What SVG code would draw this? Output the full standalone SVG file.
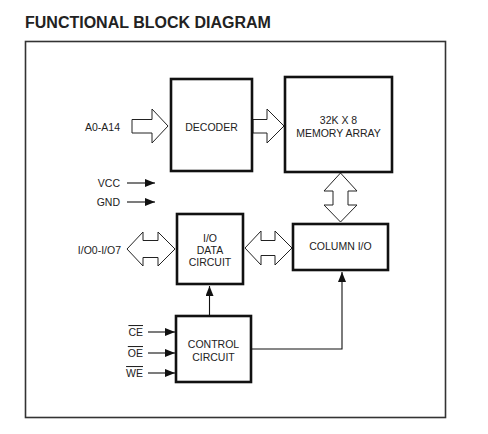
<svg xmlns="http://www.w3.org/2000/svg" width="488" height="434" viewBox="0 0 488 434">
<defs>
<marker id="ah" viewBox="0 0 10 8" refX="10" refY="4" markerWidth="10" markerHeight="8" markerUnits="userSpaceOnUse" orient="auto">
<path d="M0,0 L10,4 L0,8 Z" fill="#111"/>
</marker>
</defs>
<style>
.t{font-family:"Liberation Sans",Arial,sans-serif;font-size:10.5px;fill:#222}
.m{text-anchor:middle}
.e{text-anchor:end}
.box{fill:#fff;stroke:#111;stroke-width:2.6}
.hol{fill:#fff;stroke:#222;stroke-width:1;stroke-linejoin:miter}
.ln{fill:none;stroke:#111;stroke-width:1.1}
.ov{text-decoration:overline}
</style>
<rect width="488" height="434" fill="#fff"/>
<text x="25" y="27.5" style="font-family:'Liberation Sans',Arial,sans-serif;font-size:16px;font-weight:bold;fill:#222">FUNCTIONAL BLOCK DIAGRAM</text>
<rect x="25.5" y="41.5" width="420" height="376" fill="none" stroke="#333" stroke-width="1.6"/>

<g id="connectors">
<path class="hol" d="M132,119.5 H152 V109 L168,126 L152,143 V133 H132 Z"/>
<path class="hol" d="M253,119.5 H267 V109 L284,126 L267,143 V133 H253 Z"/>
<path class="hol" d="M340.5,173 L357,191 H348 V205 H357 L340.5,222 L324,205 H333 V191 H324 Z"/>
<path class="hol" d="M127,249 L143,232 V240.5 H158 V232 L175,249 L158,266 V257.5 H143 V266 Z"/>
<path class="hol" d="M245,248 L261,231 V240.5 H275 V231 L292,248 L275,265 V255.5 H261 V265 Z"/>
<line class="ln" x1="127" y1="183" x2="155" y2="183" marker-end="url(#ah)"/>
<line class="ln" x1="127" y1="202" x2="155" y2="202" marker-end="url(#ah)"/>
<line class="ln" x1="148" y1="332" x2="175" y2="332" marker-end="url(#ah)"/>
<line class="ln" x1="148" y1="353" x2="175" y2="353" marker-end="url(#ah)"/>
<line class="ln" x1="148" y1="373" x2="175" y2="373" marker-end="url(#ah)"/>
<line class="ln" x1="209.5" y1="315" x2="209.5" y2="286" marker-end="url(#ah)"/>
<polyline class="ln" points="252,349 342,349 342,272" marker-end="url(#ah)"/>
</g>

<g id="decoder">
<rect class="box" x="171" y="79" width="81" height="92"/>
<text class="t m" x="211.5" y="130.5">DECODER</text>
</g>
<g id="memory-array">
<rect class="box" x="285" y="77" width="107" height="95"/>
<text class="t m" x="338.5" y="124">32K X 8</text>
<text class="t m" x="338.5" y="136.5">MEMORY ARRAY</text>
</g>
<g id="io-data-circuit">
<rect class="box" x="177" y="214" width="66" height="70"/>
<text class="t m" x="210" y="242">I/O</text>
<text class="t m" x="210" y="254">DATA</text>
<text class="t m" x="210" y="266">CIRCUIT</text>
</g>
<g id="column-io">
<rect class="box" x="293" y="224" width="95" height="46"/>
<text class="t m" x="340.5" y="250">COLUMN I/O</text>
</g>
<g id="control-circuit">
<rect class="box" x="176" y="316" width="75" height="66"/>
<text class="t m" x="213.5" y="348">CONTROL</text>
<text class="t m" x="213.5" y="361">CIRCUIT</text>
</g>
<g id="labels">
<text class="t e" x="120" y="130.5">A0-A14</text>
<text class="t e" x="120" y="187">VCC</text>
<text class="t e" x="120" y="206">GND</text>
<text class="t e" x="121" y="254">I/O0-I/O7</text>
<text class="t e ov" x="143" y="336">CE</text>
<text class="t e ov" x="143" y="357">OE</text>
<text class="t e ov" x="143" y="377">WE</text>
</g>
</svg>
